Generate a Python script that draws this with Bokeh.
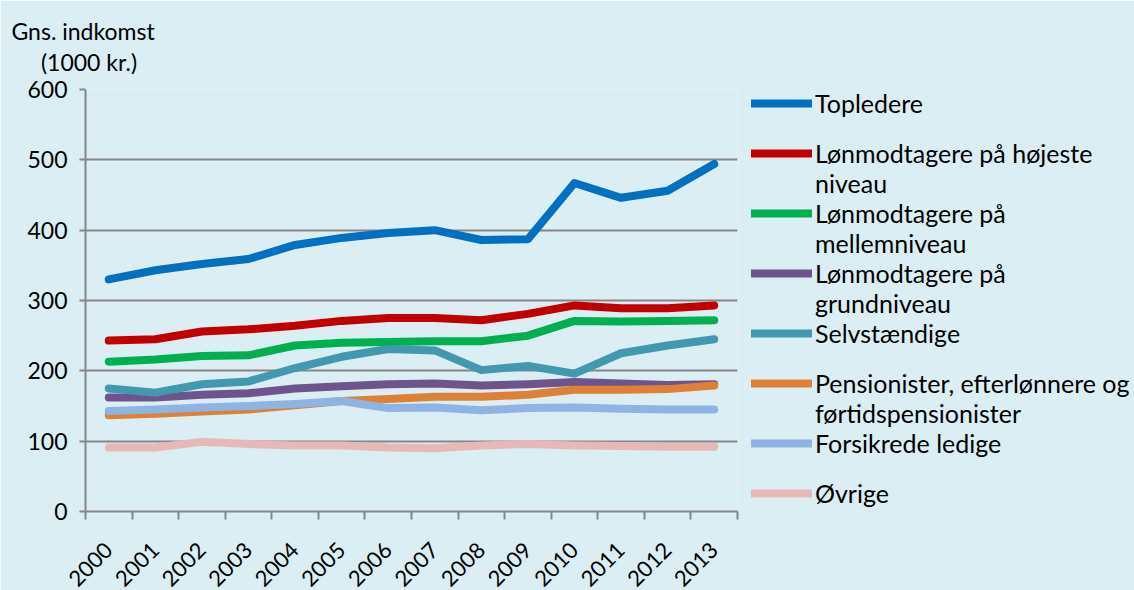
from bokeh.plotting import figure
from bokeh.models import Range1d, FixedTicker, LinearAxis, Legend, LegendItem, Title
from bokeh.embed import file_html
from bokeh.resources import INLINE

years = list(range(2000, 2014))
topledere = [330, 343, 352, 359, 379, 389, 396, 400, 386, 387, 467, 446, 456, 494]
hoejeste = [243, 245, 256, 259, 264, 271, 275, 275, 272, 281, 293, 289, 289, 293]
mellem = [213, 216, 221, 222, 236, 240, 241, 242, 242, 250, 271, 270, 271, 272]
grund = [162, 162, 166, 168, 175, 178, 181, 182, 179, 181, 184, 182, 180, 181]
selvst = [175, 169, 181, 185, 204, 220, 231, 229, 201, 207, 196, 225, 236, 245]
pension = [137, 139, 142, 145, 151, 157, 160, 163, 163, 166, 173, 173, 174, 179]
ledige = [143, 145, 148, 150, 153, 157, 147, 148, 144, 147, 148, 146, 145, 145]
oevrige = [91, 91, 99, 96, 94, 94, 91, 90, 94, 96, 94, 93, 92, 92]

names = ["Topledere", "Lønmodtagere på højeste\nniveau", "Lønmodtagere på\nmellemniveau",
         "Lønmodtagere på\ngrundniveau", "Selvstændige",
         "Pensionister, efterlønnere og\nførtidspensionister", "Forsikrede ledige", "Øvrige"]
values = [topledere, hoejeste, mellem, grund, selvst, pension, ledige, oevrige]
colors = ["#0070C0", "#C00000", "#00B050", "#6E548D", "#4198AF", "#DE8137", "#8DB4E2", "#E6B9B8"]
y_ticks = [0, 100, 200, 300, 400, 500, 600]

BG = "#DAEEF3"
GRID = "#868686"
FONT = "Lato"

p = figure(frame_width=652, frame_height=422, output_backend="svg", toolbar_location=None,
           x_range=Range1d(1999.5, 2013.5), y_range=Range1d(0, 600),
           x_axis_location=None, min_border_left=85, min_border_top=89,
           min_border_bottom=77, min_border_right=0)
p.background_fill_color = BG
p.border_fill_color = BG
p.outline_line_color = None

# y axis
yax = p.yaxis[0]
yax.ticker = FixedTicker(ticks=y_ticks)
yax.axis_line_color = GRID
yax.axis_line_width = 2
yax.major_tick_line_color = GRID
yax.major_tick_line_width = 2
yax.major_tick_in = 0
yax.major_tick_out = 6
yax.minor_tick_line_color = None
yax.major_label_text_font = FONT
yax.major_label_text_font_size = "23px"
yax.major_label_text_color = "black"
yax.major_label_standoff = 12

p.ygrid.ticker = FixedTicker(ticks=y_ticks)
p.ygrid.grid_line_color = GRID
p.ygrid.grid_line_width = 2
p.xgrid.grid_line_color = None

# x axis: ticks at category boundaries
xt = LinearAxis(ticker=FixedTicker(ticks=[y - 0.5 for y in years] + [years[-1] + 0.5]))
xt.axis_line_color = GRID
xt.axis_line_width = 2
xt.major_tick_line_color = GRID
xt.major_tick_line_width = 2
xt.major_tick_in = 0
xt.major_tick_out = 8
xt.minor_tick_line_color = None
xt.major_label_text_font_size = "0px"
xt.major_label_standoff = 0
p.add_layout(xt, "below")

# x axis labels at category centers
xl = LinearAxis(ticker=FixedTicker(ticks=years))
xl.axis_line_color = None
xl.major_tick_line_color = None
xl.minor_tick_line_color = None
xl.major_label_orientation = 0.785398
xl.major_label_text_font = FONT
xl.major_label_text_font_size = "22px"
xl.major_label_text_color = "black"
xl.major_label_standoff = 21
p.add_layout(xl, "below")

# series lines; legend entries wrap onto a continuation row
items = []
for lab, vals, col in zip(names, values, colors):
    r = p.line(years, vals, line_color=col, line_width=8, line_cap="round", line_join="round")
    ghost = p.line(years, vals, line_color=col, line_alpha=0, line_width=8)
    lines = lab.split("\n")
    first = lines[0]
    second = lines[1] if len(lines) > 1 else " "
    items.append(LegendItem(label=first, renderers=[r]))
    items.append(LegendItem(label=second, renderers=[ghost]))

legend = Legend(items=items, location=(14, -17))
legend.background_fill_alpha = 0
legend.border_line_color = None
legend.label_text_font = FONT
legend.label_text_font_size = "25px"
legend.label_text_color = "black"
legend.glyph_width = 61
legend.glyph_height = 20
legend.label_height = 20
legend.label_standoff = 3
legend.spacing = 0
legend.padding = 0
legend.margin = 0
p.add_layout(legend, "right")

p.add_layout(Title(text="Gns. indkomst\n\u00a0\u00a0\u00a0\u00a0\u00a0(1000 kr.)", align="left",
                   offset=-74, standoff=27, text_line_height=1.12,
                   text_font=FONT, text_font_size="23px", text_font_style="normal",
                   text_color="black"), "above")

open("out.html", "w").write(file_html(p, INLINE))
